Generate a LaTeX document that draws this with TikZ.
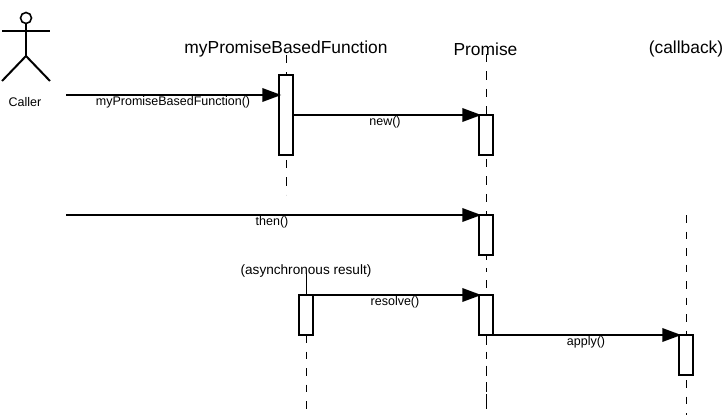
\documentclass[tikz,border=0pt]{standalone}
\usepackage{fontspec}
\setmainfont{Liberation Sans}
\usetikzlibrary{arrows.meta}
\tikzset{
  lifeline/.style={line width=0.9pt,dash pattern=on 7.5pt off 9pt},
  actorline/.style={line width=2pt},
  actbox/.style={draw,line width=1.6pt,fill=white,minimum width=13.5pt,inner sep=0pt,outer sep=0pt,anchor=north},
  msg/.style={line width=2pt,-{Triangle[length=19pt,width=13.5pt]},shorten >=-2pt},
  title/.style={font=\fontsize{17.4}{19}\selectfont,inner sep=0pt},
  lbl/.style={font=\fontsize{12.5}{14}\selectfont,inner sep=0pt}
}
\begin{document}
\begin{tikzpicture}[x=1pt,y=-1pt]
\useasboundingbox (0,0) rectangle (726,417);
% lifeline end points
\coordinate (t1) at (286,55);
\coordinate (e1) at (286,195);
\coordinate (t2) at (486,54);
\coordinate (e2) at (486,203);
\coordinate (t3) at (486,211);
\coordinate (e3) at (486,409);
\coordinate (t4) at (306,273);
\coordinate (e4) at (306,409);
\coordinate (t5) at (686,215);
\coordinate (e5) at (686,415);
\coordinate (c1) at (66,95);
\coordinate (c2) at (66,215);
% lifelines
\draw[lifeline,dash pattern=on 8.5pt off 9pt] (t1) -- (e1);
\draw[lifeline,dash pattern=on 8.5pt off 9pt] (t2) -- (e2);
\draw[lifeline,dash pattern=on 4pt off 8pt on 8pt off 8.5pt] (t3) -- (e3);
\draw[lifeline,dash pattern=on 21pt off 200pt] (t4) -- (e4);
\draw[lifeline] (t5) -- (e5);
\draw[lifeline] (306,335) -- (e4);
\draw[lifeline] (486,335) -- (e3);
% activation boxes
\node[actbox,minimum height=80pt] (a1) at (286,75) {};
\node[actbox,minimum height=40pt] (b1) at (486,115) {};
\node[actbox,minimum height=40pt] (b2) at (486,215) {};
\node[actbox,minimum height=40pt] (r1) at (306,295) {};
\node[actbox,minimum height=40pt] (b3) at (486,295) {};
\node[actbox,minimum height=40pt] (d1) at (686,335) {};
% actor
\node[draw,circle,line width=1.6pt,minimum size=11pt,inner sep=0pt] (head) at (26,18) {};
\coordinate (hip) at (26,56);
\coordinate (armL) at (2,31);
\coordinate (armR) at (50,31);
\coordinate (legL) at (2,81);
\coordinate (legR) at (50,81);
\draw[actorline] (head.south) -- (hip);
\draw[actorline] (armL) -- (armR);
\draw[actorline] (legL) -- (hip) -- (legR);
% messages
\draw[msg] (c1) -- (c1 -| a1.west);
\draw[msg] (a1.east |- b1.north) -- (b1.north west);
\draw[msg] (c2) -- (b2.north west);
\draw[msg] (r1.north east) -- (b3.north west);
\draw[msg] (b3.south east) -- (d1.north west);
% titles
\node[title] (n1) at (286,49) {myPromiseBasedFunction};
\node[title] (n2) at (485.5,49) {Promise};
\node[title] (n3) at (686,49) {(callback)};
% labels
\node[lbl] (n4) at (25,102) {Caller};
\node[lbl] (m1) at (173,102) {myPromiseBasedFunction()};
\node[lbl] (m2) at (385,122) {new()};
\node[lbl] (m3) at (272,222) {then()};
\node[lbl] (m4) at (395,302) {resolve()};
\node[lbl] (m5) at (586,342) {apply()};
\node[lbl,font=\fontsize{13.6}{15}\selectfont] (m6) at (306,271) {(asynchronous result)};
\end{tikzpicture}
\end{document}
